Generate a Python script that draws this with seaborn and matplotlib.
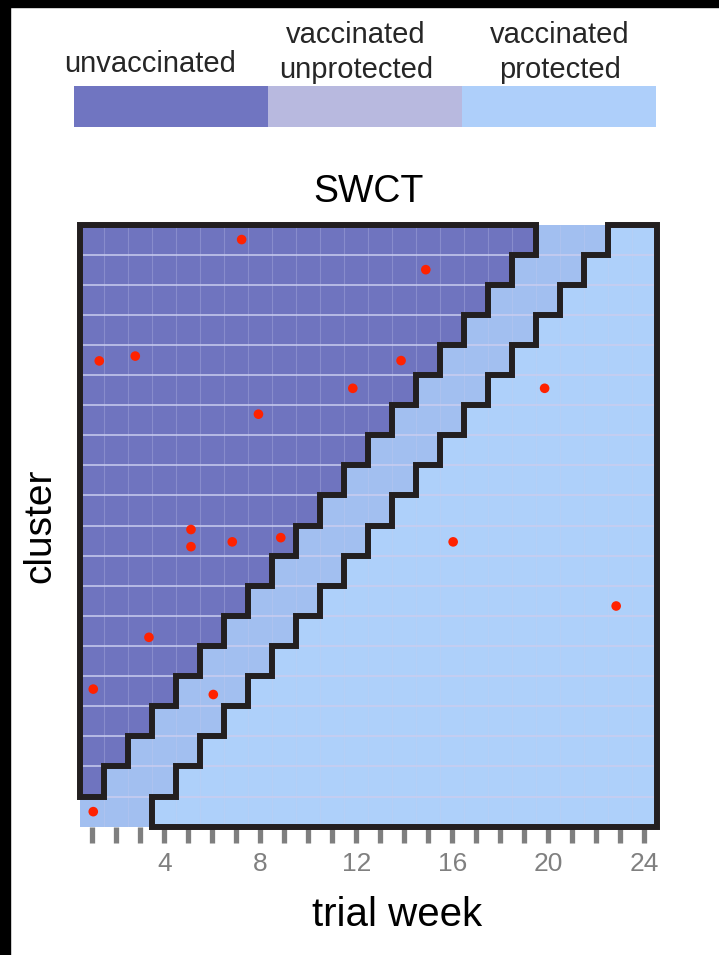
import matplotlib.pyplot as plt
import pandas as pd
import seaborn as sns
from matplotlib.colors import ListedColormap
from matplotlib.patches import Polygon, Rectangle

sns.set_theme(style="white")
plt.rcParams["font.family"] = ["Liberation Sans", "DejaVu Sans"]

# --- data -------------------------------------------------------------
state_names = ["unvaccinated", "vaccinated\nunprotected", "vaccinated\nprotected"]
legend_colors = ["#7075c1", "#b8b9df", "#aecffa"]
grid_colors = ["#6f74bf", "#a2bff0", "#aed0fa"]

weeks = list(range(1, 25))
clusters = list(range(1, 21))
# number of unvaccinated weeks before each cluster crosses over (cluster 1 first)
rollout_week = [0, 1, 2, 3, 4, 5, 6, 7, 8, 9, 10, 11, 12, 13, 14, 15, 16, 17, 18, 19]
protection_lag = 3

# infections (x in weeks from start, y in cluster rows from bottom)
inf_week = [6.72, 14.39, 0.79, 2.29, 13.36, 11.35, 19.34, 7.42, 4.61, 4.61,
            6.33, 8.35, 15.53, 22.32, 2.86, 0.54, 5.54, 0.54]
inf_cluster = [19.50, 18.50, 15.47, 15.63, 15.48, 14.56, 14.56, 13.70, 9.87, 9.30,
               9.46, 9.60, 9.46, 7.33, 6.29, 4.57, 4.39, 0.50]
week_ticks = [4, 8, 12, 16, 20, 24]

# --- status matrix ----------------------------------------------------
rows = []
for r in rollout_week:
    row = []
    for w in weeks:
        if w <= r:
            row.append(0)
        elif w <= r + protection_lag:
            row.append(1)
        else:
            row.append(2)
    rows.append(row)
status = pd.DataFrame(rows, index=clusters, columns=weeks)

W, H = 719, 955
fig = plt.figure(figsize=(W / 100, H / 100), dpi=100, facecolor="white")

# black edge strips of the original image
fig.patches.append(Rectangle((0, 0), 10 / W, 1, transform=fig.transFigure,
                             color="black", zorder=0))
fig.patches.append(Rectangle((0, 1 - 7 / H), 1, 7 / H, transform=fig.transFigure,
                             color="black", zorder=0))

# --- main grid ----------------------------------------------------------
ax = fig.add_axes([80.3 / W, 1 - 826.7 / H, 576.2 / W, 602.2 / H])
sns.heatmap(status, cmap=ListedColormap(grid_colors), vmin=-0.5, vmax=2.5,
            cbar=False, ax=ax, xticklabels=False, yticklabels=False)
ax.set_ylim(0, len(clusters))
n_w, n_c = len(weeks), len(clusters)

ax.hlines(range(1, n_c), 0, n_w, color="#cacdef", lw=1.1, zorder=2)
ax.vlines(range(1, n_w), 0, n_c, color="#cacdef", lw=0.8, alpha=0.28, zorder=2)

# outline of unvaccinated region
unvac = [(0, 1), (0, n_c)]
for i in range(n_c - 1, 0, -1):
    unvac += [(rollout_week[i], i + 1), (rollout_week[i], i)]
# outline of protected region
prot = []
for i in range(n_c - 1, -1, -1):
    x = rollout_week[i] + protection_lag
    prot += [(x, i + 1), (x, i)]
prot += [(n_w, 0), (n_w, n_c)]
for path in (unvac, prot):
    ax.add_patch(Polygon(path, closed=True, fill=False, ec="#231f20", lw=4.3,
                         joinstyle="miter", clip_on=False, zorder=4))

sns.scatterplot(x=inf_week, y=inf_cluster, color="#ff2200", s=48,
                edgecolor="none", ax=ax, zorder=5, legend=False)

for s in ax.spines.values():
    s.set_visible(False)
ax.set_xticks([w - 0.5 for w in weeks])
ax.set_xticklabels([str(w) if w in week_ticks else "" for w in weeks])
ax.set_yticks([])
ax.tick_params(axis="x", bottom=True, direction="out", length=11.5, width=3.8,
               color="#7f7f7f", labelcolor="#808080", labelsize=19, pad=7)
ax.set_xlabel("trial week", fontsize=29, color="black", labelpad=14)
ax.set_ylabel("cluster", fontsize=28, color="black", labelpad=16)
ax.xaxis.label.set_visible(True)
ax.yaxis.label.set_visible(True)
ax.xaxis.label.set_x(0.55)
ax.set_title("SWCT", fontsize=27, color="black", pad=16)

# --- legend bar ---------------------------------------------------------
lax = fig.add_axes([74 / W, 1 - 127 / H, 582 / W, 41 / H])
sns.heatmap(pd.DataFrame([[0, 1, 2]], columns=state_names),
            cmap=ListedColormap(legend_colors), vmin=-0.5, vmax=2.5,
            cbar=False, ax=lax, xticklabels=False, yticklabels=False)
lax.set_xlabel("")
lax.set_ylabel("")

label_x = [150, 356, 560]
for name, x in zip(state_names, label_x):
    lines = name.split("\n")
    if len(lines) == 1:
        fig.text(x / W, 1 - 72 / H, lines[0], ha="center", va="baseline", fontsize=21)
    else:
        fig.text(x / W, 1 - 43 / H, lines[0], ha="center", va="baseline", fontsize=21)
        fig.text(x / W, 1 - 78 / H, lines[1], ha="center", va="baseline", fontsize=21)

fig.savefig("out.png", dpi=100, facecolor="white")
